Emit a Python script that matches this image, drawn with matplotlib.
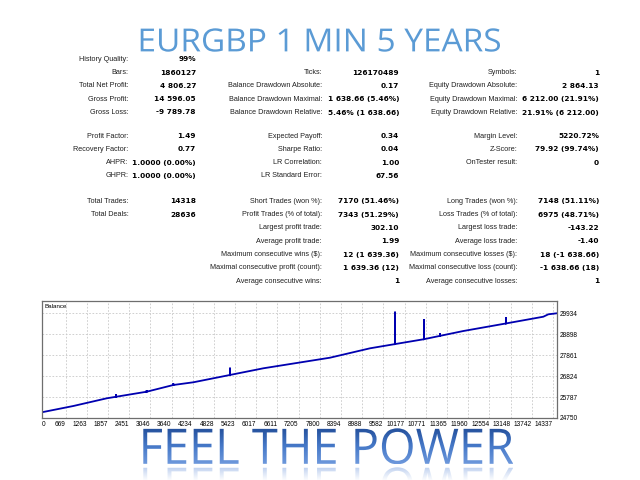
import numpy as np
import matplotlib
matplotlib.use('Agg')
import matplotlib.pyplot as plt
from matplotlib.textpath import TextPath
from matplotlib.patches import PathPatch
from matplotlib.font_manager import FontProperties
from matplotlib.transforms import Affine2D
from matplotlib.colors import LinearSegmentedColormap, to_rgb

W, H = 640, 480

title = "EURGBP 1 MIN 5 YEARS"
slogan = "FEEL THE POWER"

# report table: (label, value) per column per block
block1_c1 = [("History Quality:", "99%"), ("Bars:", "1860127"),
             ("Total Net Profit:", "4 806.27"), ("Gross Profit:", "14 596.05"),
             ("Gross Loss:", "-9 789.78")]
block1_c2 = [("Ticks:", "126170489"), ("Balance Drawdown Absolute:", "0.17"),
             ("Balance Drawdown Maximal:", "1 638.66 (5.46%)"),
             ("Balance Drawdown Relative:", "5.46% (1 638.66)")]
block1_c3 = [("Symbols:", "1"), ("Equity Drawdown Absolute:", "2 864.13"),
             ("Equity Drawdown Maximal:", "6 212.00 (21.91%)"),
             ("Equity Drawdown Relative:", "21.91% (6 212.00)")]
block2_c1 = [("Profit Factor:", "1.49"), ("Recovery Factor:", "0.77"),
             ("AHPR:", "1.0000 (0.00%)"), ("GHPR:", "1.0000 (0.00%)")]
block2_c2 = [("Expected Payoff:", "0.34"), ("Sharpe Ratio:", "0.04"),
             ("LR Correlation:", "1.00"), ("LR Standard Error:", "67.56")]
block2_c3 = [("Margin Level:", "5220.72%"), ("Z-Score:", "79.92 (99.74%)"),
             ("OnTester result:", "0")]
block3_c1 = [("Total Trades:", "14318"), ("Total Deals:", "28636")]
block3_c2 = [("Short Trades (won %):", "7170 (51.46%)"),
             ("Profit Trades (% of total):", "7343 (51.29%)"),
             ("Largest profit trade:", "302.10"), ("Average profit trade:", "1.99"),
             ("Maximum consecutive wins ($):", "12 (1 639.36)"),
             ("Maximal consecutive profit (count):", "1 639.36 (12)"),
             ("Average consecutive wins:", "1")]
block3_c3 = [("Long Trades (won %):", "7148 (51.11%)"),
             ("Loss Trades (% of total):", "6975 (48.71%)"),
             ("Largest loss trade:", "-143.22"), ("Average loss trade:", "-1.40"),
             ("Maximum consecutive losses ($):", "18 (-1 638.66)"),
             ("Maximal consecutive loss (count):", "-1 638.66 (18)"),
             ("Average consecutive losses:", "1")]

# balance curve (trade number, balance), spikes included
trades = [0, 886, 1823, 2083, 2083, 2083, 2944, 2944, 2944, 3690, 3690, 3690,
          4251, 5280, 5280, 5280, 6214, 8084, 9206, 9907, 9907, 9907,
          10700, 10720, 10720, 10720, 11168, 11168, 11168, 11822,
          13019, 13019, 13019, 14065, 14205, 14440]
balance = [25032, 25344, 25725, 25801, 25923, 25801, 26052, 26136, 26052,
           26384, 26468, 26384, 26518, 26881, 27240, 26881, 27211, 27736,
           28201, 28410, 30013, 28410, 28646, 28652, 29651, 28652,
           28817, 28943, 28817, 29057, 29432, 29736, 29432, 29765, 29884, 29934]

yticks = [24750, 25787, 26824, 27861, 28898, 29934]
xticks = [0, 669, 1263, 1857, 2451, 3046, 3640, 4234, 4828, 5423, 6017, 6611,
          7205, 7800, 8394, 8988, 9582, 10177, 10771, 11365, 11960, 12554,
          13148, 13742, 14337]

fig = plt.figure(figsize=(6.4, 4.8), dpi=100)
fig.patch.set_facecolor('white')

# overlay axes in pixel coordinates (y up)
ax0 = fig.add_axes([0, 0, 1, 1])
ax0.set_xlim(0, W)
ax0.set_ylim(0, H)
ax0.axis('off')

lab_font = dict(family='Liberation Sans', fontsize=5.2, color='#202020')
val_font = dict(family='DejaVu Sans', fontsize=5.3, weight='bold', color='black')
col_x = [(128.3, 196), (322, 399), (517.5, 599)]


def draw_block(cols, y0, first_rows):
    for (lx, vx), rows, r0 in zip(col_x, cols, first_rows):
        for i, (lab, val) in enumerate(rows):
            y = H - (y0 + 13.3 * (r0 + i))
            ax0.text(lx, y, lab, ha='right', va='center', **lab_font)
            ax0.text(vx, y, val, ha='right', va='center', **val_font)


draw_block([block1_c1, block1_c2, block1_c3], 59.3, [0, 1, 1])
draw_block([block2_c1, block2_c2, block2_c3], 136, [0, 0, 0])
draw_block([block3_c1, block3_c2, block3_c3], 201.3, [0, 0, 0])


def fitted_path(s, family, x0, x1, ytop, ybot):
    tp = TextPath((0, 0), s, size=10, prop=FontProperties(family=family))
    bb = tp.get_extents()
    sx = (x1 - x0) / bb.width
    sy = (ybot - ytop) / bb.height
    tr = Affine2D().translate(-bb.x0, -bb.y0).scale(sx, sy).translate(x0, H - ybot)
    return tr.transform_path(tp)


# title
tpath = fitted_path(title, 'Open Sans', 140.7, 500, 28.3, 51.7)
ax0.add_patch(PathPatch(tpath, facecolor='#5b9bd5', edgecolor='none'))

# slogan with gradient and reflection
sx0, sx1, stop, sbot = 143.3, 513.3, 428.3, 464.3
spath = fitted_path(slogan, 'Open Sans', sx0, sx1, stop, sbot)
clip = PathPatch(spath, facecolor='none', edgecolor='none')
ax0.add_patch(clip)
cmap = LinearSegmentedColormap.from_list('g', ['#24509c', '#4679c8', '#6d98dc'])
grad = np.linspace(0, 1, 64).reshape(-1, 1)
im = ax0.imshow(grad, extent=[sx0, sx1, H - sbot, H - stop], cmap=cmap,
                aspect='auto', origin='upper', zorder=2)
im.set_clip_path(clip)

base = H - sbot - 1.5
rpath = Affine2D().scale(1, -1).translate(0, 2 * base).transform_path(spath)
rclip = PathPatch(rpath, facecolor='none', edgecolor='none')
ax0.add_patch(rclip)
rgba = np.zeros((64, 1, 4))
rgba[:, 0, :3] = to_rgb('#7fa3e0')
rgba[:, 0, 3] = np.linspace(0.65, 0.0, 64) ** 1.2
im2 = ax0.imshow(rgba, extent=[sx0, sx1, base - 16, base], aspect='auto',
                 origin='upper', zorder=2)
im2.set_clip_path(rclip)
ax0.set_xlim(0, W)
ax0.set_ylim(0, H)

# balance chart
ax = fig.add_axes([41.7 / W, 1 - 418 / H, 515 / W, 117.3 / H])
ax.plot(trades, balance, color='#0000b0', lw=1.3, solid_joinstyle='miter')
ax.set_xlim(0, 14440)
ax.set_ylim(24750, 30558)
ax.set_yticks(yticks)
ax.set_yticklabels([str(v) for v in yticks])
ax.set_xticks(xticks)
ax.set_xticklabels([str(v) for v in xticks])
ax.yaxis.tick_right()
ax.tick_params(length=0, labelsize=4.7, pad=2)
for lbl in ax.get_xticklabels() + ax.get_yticklabels():
    lbl.set_family('Liberation Sans')
for i, lbl in enumerate(ax.get_xticklabels()):
    lbl.set_ha('left' if i == 0 else 'right')
ax.grid(True, color='#c8c8c8', linestyle=(0, (2, 2)), lw=0.6)
for sp in ax.spines.values():
    sp.set_color('#6e6e6e')
    sp.set_linewidth(0.9)
ax.text(0.005, 0.97, 'Balance', transform=ax.transAxes, ha='left', va='top',
        fontsize=4.5, family='Liberation Sans')

fig.savefig('out.png', dpi=100)
